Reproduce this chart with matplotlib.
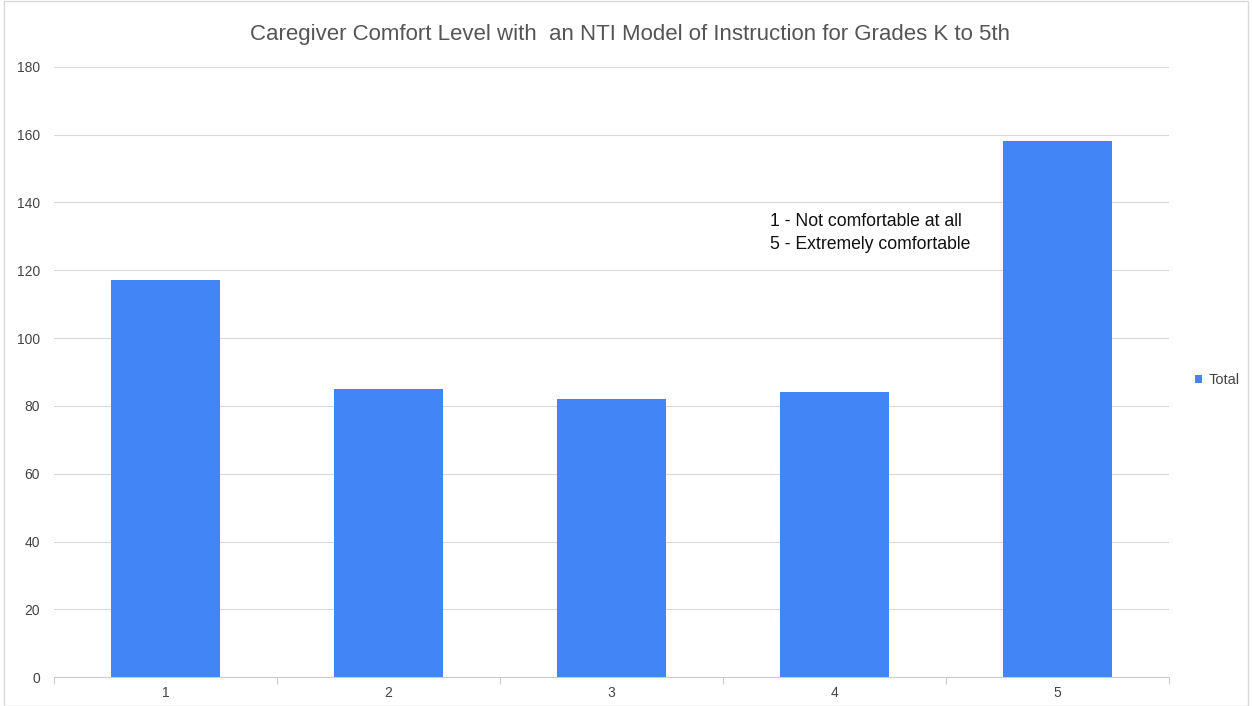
import matplotlib.pyplot as plt
from matplotlib.patches import Rectangle

plt.rcParams['font.family'] = ['Liberation Sans', 'DejaVu Sans']

categories = ['1', '2', '3', '4', '5']
totals = [117, 85, 82, 84, 158]
title = 'Caregiver Comfort Level with  an NTI Model of Instruction for Grades K to 5th'
note = '1 - Not comfortable at all\n5 - Extremely comfortable'

fig = plt.figure(figsize=(12.52, 7.06), dpi=100)
ax = fig.add_axes([0.0431, 0.0407, 0.8905, 0.8648])

# light frame round the whole chart
fig.patches.append(Rectangle((0.003, 0.0), 0.994, 0.999, transform=fig.transFigure,
                             fill=False, edgecolor='#d9d9d9', linewidth=1))

x = range(len(categories))
ax.bar(x, totals, width=0.49, color='#4285f4', zorder=3, label='Total')

ax.set_xlim(-0.5, len(categories) - 0.5)
ax.set_ylim(0, 180)
ax.set_yticks(range(0, 181, 20))
ax.set_xticks(list(x))
ax.set_xticklabels(categories)
ax.set_xticks([i - 0.5 for i in range(len(categories) + 1)], minor=True)

ax.grid(axis='y', color='#d9d9d9', linewidth=0.8, zorder=0)
for s in ['top', 'right', 'left']:
    ax.spines[s].set_visible(False)
ax.spines['bottom'].set_color('#cccccc')
ax.tick_params(axis='y', length=0, labelsize=10, labelcolor='#444444', pad=10)
ax.tick_params(axis='x', which='major', length=0, labelsize=10, labelcolor='#444444', pad=6)
ax.tick_params(axis='x', which='minor', length=5, color='#cccccc', width=0.8)

fig.text(0.503, 0.951, title, fontsize=16, color='#555555', ha='center', va='center')

ax.text(2.71, 131, note, fontsize=12.7, color='#111111', va='center', ha='left',
        linespacing=1.4)

leg = fig.legend(loc='center left', bbox_to_anchor=(0.944, 0.462), frameon=False,
                 fontsize=10.5, handlelength=0.45, handleheight=0.45, handletextpad=0.5)
for t in leg.get_texts():
    t.set_color('#444444')

fig.savefig('out.png', dpi=100)
